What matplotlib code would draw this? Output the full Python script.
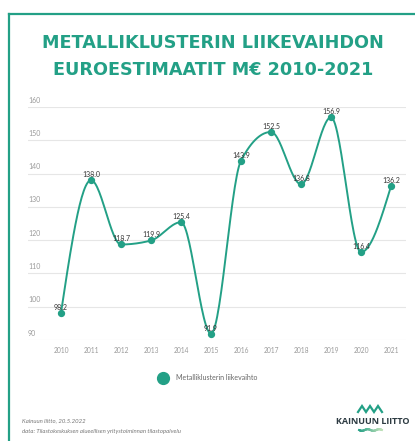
import matplotlib.pyplot as plt
import numpy as np
from matplotlib.lines import Line2D

# Metalliklusterin liikevaihto, M€
years = [2010, 2011, 2012, 2013, 2014, 2015, 2016, 2017, 2018, 2019, 2020, 2021]
values = [98.2, 138.0, 118.7, 119.9, 125.4, 91.9, 143.9, 152.5, 136.8, 156.9, 116.4, 136.2]
y_ticks = [90, 100, 110, 120, 130, 140, 150, 160]

teal = '#23a086'
grid_c = '#e6e6e6'
tick_c = '#9a9a9a'


def monotone_x(x, y, n=30):
    # monotone cubic curve (d3 curveMonotoneX style), extremes stay on the points
    x = np.asarray(x, float)
    y = np.asarray(y, float)
    h = np.diff(x)
    s = np.diff(y) / h
    m = np.zeros_like(y)
    for i in range(1, len(y) - 1):
        p = (s[i - 1] * h[i] + s[i] * h[i - 1]) / (h[i - 1] + h[i])
        m[i] = (np.sign(s[i - 1]) + np.sign(s[i])) * min(abs(s[i - 1]), abs(s[i]), 0.5 * abs(p))
    m[0] = (3 * s[0] - m[1]) / 2
    m[-1] = (3 * s[-1] - m[-2]) / 2
    xs, ys = [], []
    t = np.linspace(0, 1, n)
    for i in range(len(h)):
        h00 = 2 * t ** 3 - 3 * t ** 2 + 1
        h10 = t ** 3 - 2 * t ** 2 + t
        h01 = -2 * t ** 3 + 3 * t ** 2
        h11 = t ** 3 - t ** 2
        xs.extend(x[i] + t * h[i])
        ys.extend(h00 * y[i] + h10 * h[i] * m[i] + h01 * y[i + 1] + h11 * h[i] * m[i + 1])
    return np.array(xs), np.array(ys)


fig = plt.figure(figsize=(4.15, 4.41), dpi=100)
W, H = 415, 441

# frame
fig.add_artist(Line2D([9 / W, 9 / W], [0, 1 - 14 / H], color=teal, lw=1.6))
fig.add_artist(Line2D([9 / W, 1], [1 - 14 / H, 1 - 14 / H], color=teal, lw=1.6))

fig.text(213 / W, 1 - 43 / H, 'METALLIKLUSTERIN LIIKEVAIHDON', ha='center', va='center',
         fontsize=12.7, fontweight='bold', color=teal, family='DejaVu Sans')
fig.text(213 / W, 1 - 70 / H, 'EUROESTIMAATIT M€ 2010-2021', ha='center', va='center',
         fontsize=12.7, fontweight='bold', color=teal, family='DejaVu Sans')

ax = fig.add_axes([28 / W, 1 - 340 / H, (406 - 28) / W, (340 - 107) / H])
ax.set_xlim(2010 - 33 / 30, 2021 + 15 / 30)
ax.set_ylim(90, 160)
for s in ax.spines.values():
    s.set_visible(False)
ax.set_yticks([])
ax.set_xticks(years)
ax.set_xticklabels([str(y) for y in years], fontsize=4.8, color=tick_c, family='Lato')
ax.tick_params(axis='x', length=0, pad=5)

for v in y_ticks:
    ax.axhline(v, color=grid_c, lw=0.8, zorder=0)
    ax.annotate(str(v), (0, v), xycoords=('axes fraction', 'data'), xytext=(0, 2.5),
                textcoords='offset points', fontsize=5, color=tick_c, family='Lato',
                ha='left', va='bottom')

sx, sy = monotone_x(years, values)
ax.plot(sx, sy, color=teal, lw=1.4, clip_on=False, zorder=2)
ax.scatter(years, values, s=18, color=teal, zorder=3, clip_on=False)

for x, v in zip(years, values):
    ax.annotate(f'{v:.1f}', (x, v), xytext=(0, 4), textcoords='offset points',
                ha='center', va='center', fontsize=5, color='#333333', family='Lato')

# legend
fig.add_artist(Line2D([163 / W], [1 - 378 / H], marker='o', markersize=8.5, color=teal, lw=0))
fig.text(176 / W, 1 - 378 / H, 'Metalliklusterin liikevaihto', fontsize=5, color='#666666',
         va='center', ha='left', family='Lato')

# footer
fig.text(22 / W, 1 - 421 / H, 'Kainuun liitto, 20.5.2022', fontsize=4.3, color='#777777',
         style='italic', va='center', family='Lato')
fig.text(22 / W, 1 - 431 / H, 'data: Tilastokeskuksen alueellisen yritystoiminnan tilastopalvelu',
         fontsize=4.3, color='#777777', style='italic', va='center', family='Lato')

# Kainuun liitto logo
zx = np.array([358, 362, 366, 370, 374, 378, 382]) / W
zy = 1 - np.array([412, 406, 412, 406, 412, 406, 412]) / H
fig.add_artist(Line2D(zx, zy, color=teal, lw=1.6, solid_joinstyle='miter'))
fig.text(373 / W, 1 - 421 / H, 'KAINUUN LIITTO', fontsize=6.5, fontweight='bold',
         color='#2d3b42', ha='center', va='center', family='Open Sans')
wx = np.linspace(359, 382, 40)
wy = 1 - (430 + 0.8 * np.sin((wx - 359) / 23 * 4 * np.pi)) / H
c = plt.cm.colors.to_rgb(teal)
for i in range(len(wx) - 1):
    f = i / (len(wx) - 1)
    col = tuple(c[k] * (1 - f) + (0.75, 0.88, 0.72)[k] * f for k in range(3))
    fig.add_artist(Line2D(wx[i:i + 2] / W, wy[i:i + 2], color=col, lw=1.4))

fig.savefig('out.png', dpi=100)
